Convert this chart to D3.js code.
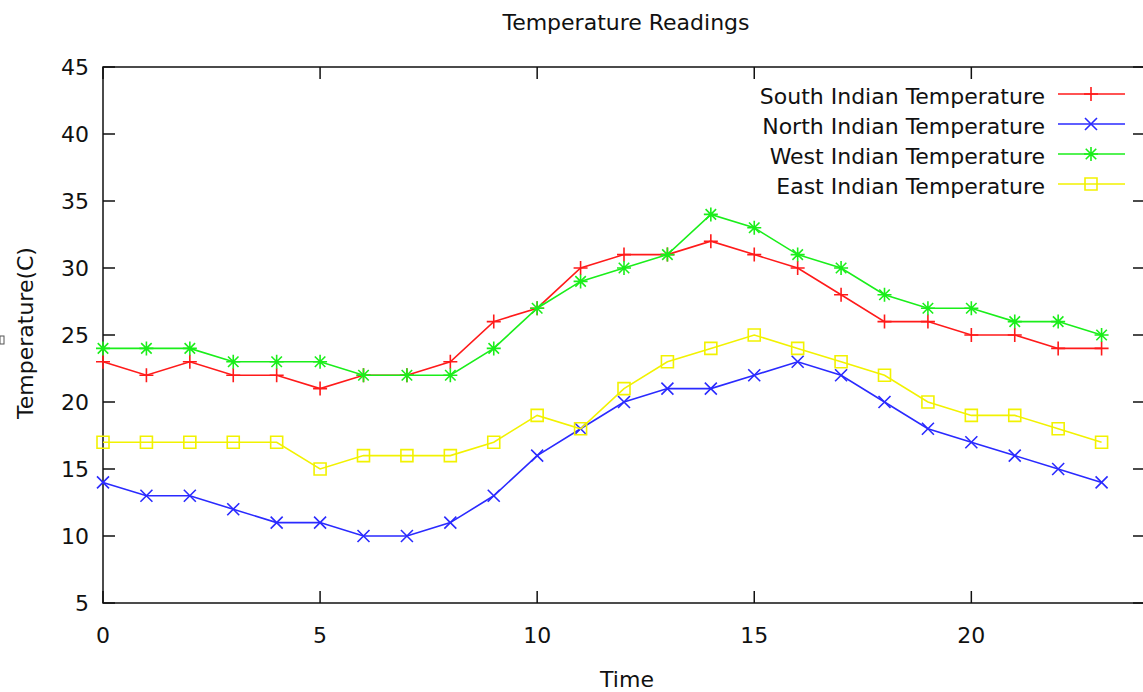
<!DOCTYPE html>
<html>
<head>
<meta charset="utf-8">
<script src="https://cdn.jsdelivr.net/npm/d3@7"></script>
<style>
  body { margin: 0; background: #fff; }
  text { font-family: "DejaVu Sans", sans-serif; fill: #111; }
</style>
</head>
<body>
<div id="chart-container"></div>
<script>
// data
const hours = d3.range(0, 24);
const southTemp = [23,22,23,22,22,21,22,22,23,26,27,30,31,31,32,31,30,28,26,26,25,25,24,24];
const northTemp = [14,13,13,12,11,11,10,10,11,13,16,18,20,21,21,22,23,22,20,18,17,16,15,14];
const westTemp  = [24,24,24,23,23,23,22,22,22,24,27,29,30,31,34,33,31,30,28,27,27,26,26,25];
const eastTemp  = [17,17,17,17,17,15,16,16,16,17,19,18,21,23,24,25,24,23,22,20,19,19,18,17];
const seriesNames = ["South Indian Temperature", "North Indian Temperature", "West Indian Temperature", "East Indian Temperature"];
const xTicks = [0, 5, 10, 15, 20];
const yTicks = [5, 10, 15, 20, 25, 30, 35, 40, 45];

const W = 1143, H = 692;
const margin = { top: 67, right: -2, bottom: 89, left: 103 };
const width = W - margin.left - margin.right;
const height = H - margin.top - margin.bottom;
const fontSize = "22px";

const x = d3.scaleLinear().domain([0, 24]).range([0, width]);
const y = d3.scaleLinear().domain([5, 45]).range([height, 0]);

const svg = d3.select("#chart-container")
  .append("svg")
    .attr("width", W)
    .attr("height", H);

const g = svg.append("g")
  .attr("transform", `translate(${margin.left},${margin.top})`);

//title and axis labels
svg.append("text")
  .attr("x", 626).attr("y", 30)
  .attr("text-anchor", "middle")
  .style("font-size", fontSize)
  .text("Temperature Readings");

svg.append("text")
  .attr("x", 627).attr("y", 687)
  .attr("text-anchor", "middle")
  .style("font-size", fontSize)
  .text("Time");

svg.append("text")
  .attr("transform", "translate(33,333) rotate(-90)")
  .attr("text-anchor", "middle")
  .style("font-size", fontSize)
  .text("Temperature(C)");

svg.append("rect")
  .attr("x", 0).attr("y", 336).attr("width", 4).attr("height", 8)
  .attr("fill", "none").attr("stroke", "#555").attr("stroke-width", 1);

//frame and ticks
const tickLen = 12;
g.append("rect")
  .attr("width", width).attr("height", height)
  .attr("fill", "none").attr("stroke", "#111").attr("stroke-width", 1.5);

g.selectAll(".xt")
  .data(xTicks)
  .join("path")
  .attr("d", d => `M${x(d)},${height}v${-tickLen}M${x(d)},0v${tickLen}`)
  .attr("stroke", "#111").attr("stroke-width", 1.5);

g.selectAll(".yt")
  .data(yTicks)
  .join("path")
  .attr("d", d => `M0,${y(d)}h${tickLen}M${width},${y(d)}h${-tickLen}`)
  .attr("stroke", "#111").attr("stroke-width", 1.5);

g.selectAll(".xl")
  .data(xTicks)
  .join("text")
  .attr("x", d => x(d)).attr("y", height + 40)
  .attr("text-anchor", "middle")
  .style("font-size", fontSize)
  .text(d => d);

g.selectAll(".yl")
  .data(yTicks)
  .join("text")
  .attr("x", -14).attr("y", d => y(d) + 8)
  .attr("text-anchor", "end")
  .style("font-size", fontSize)
  .text(d => d);

//point markers like gnuplot
const markers = {
  plus: s => `M${-s},0h${2*s}M0,${-s}v${2*s}`,
  cross: s => `M${-s},${-s}L${s},${s}M${-s},${s}L${s},${-s}`,
  star: s => markers.plus(s) + markers.cross(s*0.75),
  box: s => `M${-s},${-s}h${2*s}v${2*s}h${-2*s}z`
};

const series = [
  { name: seriesNames[0], values: southTemp, color: "#ff1a1a", marker: "plus", size: 7 },
  { name: seriesNames[1], values: northTemp, color: "#2a2aff", marker: "cross", size: 6 },
  { name: seriesNames[2], values: westTemp,  color: "#1aee1a", marker: "star", size: 7 },
  { name: seriesNames[3], values: eastTemp,  color: "#f2f200", marker: "box", size: 6 }
];

const line = d3.line()
  .x((d, i) => x(hours[i]))
  .y(d => y(d));

series.forEach(s => {
  g.append("path")
    .attr("d", line(s.values))
    .attr("fill", "none")
    .attr("stroke", s.color)
    .attr("stroke-width", 1.6);

  g.selectAll(null)
    .data(s.values)
    .join("path")
    .attr("transform", (d, i) => `translate(${x(hours[i])},${y(d)})`)
    .attr("d", markers[s.marker](s.size))
    .attr("fill", "none")
    .attr("stroke", s.color)
    .attr("stroke-width", 1.6);
});

//legend
const legend = svg.append("g");
series.forEach((s, i) => {
  const ly = 94 + i * 30;
  legend.append("text")
    .attr("x", 1045).attr("y", ly + 10)
    .attr("text-anchor", "end")
    .style("font-size", fontSize)
    .text(s.name);
  legend.append("line")
    .attr("x1", 1058).attr("x2", 1125).attr("y1", ly).attr("y2", ly)
    .attr("stroke", s.color).attr("stroke-width", 1.6);
  legend.append("path")
    .attr("transform", `translate(1091,${ly})`)
    .attr("d", markers[s.marker](s.size))
    .attr("fill", "none")
    .attr("stroke", s.color)
    .attr("stroke-width", 1.6);
});
</script>
</body>
</html>
